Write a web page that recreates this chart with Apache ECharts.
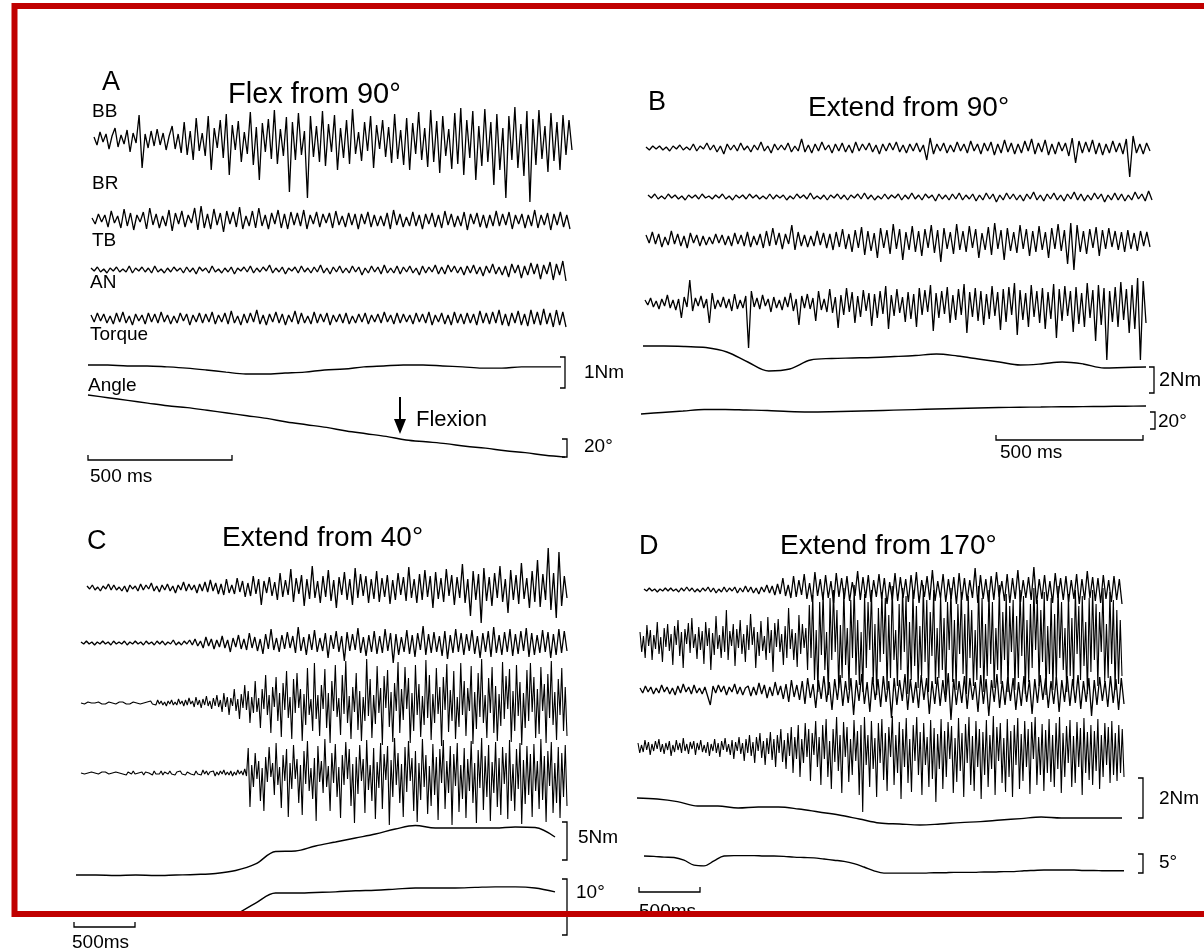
<!DOCTYPE html>
<html>
<head>
<meta charset="utf-8">
<script src="https://cdn.jsdelivr.net/npm/echarts@6/dist/echarts.min.js"></script>
<style>
html, body { margin: 0; padding: 0; background: #fff; }
#main { width: 1204px; height: 950px; }
</style>
</head>
<body>
<div id="main"></div>
<script>
// EMG samples (arbitrary units), torque in Nm, angle in degrees

// panel A - flex from 90
var A_BB = [3,-5,8,-2,6,-9,4,12,-7,5,-4,10,-12,7,-3,25,-28,6,-8,9,-6,11,-5,7,-10,4,14,-9,6,-13,18,-15,9,-20,22,-11,7,-16,24,-30,12,-8,20,-18,26,-35,15,-10,19,-22,8,-14,28,-25,13,-40,17,-12,21,-19,30,-24,11,-16,23,-52,18,-20,27,-15,9,-58,24,-17,14,-22,29,-26,16,-12,25,-30,12,-18,20,-24,31,-14,8,-21,18,-11,24,-28,15,-9,20,-17,13,-23,26,-19,10,-25,22,-30,17,-14,28,-20,12,-27,30,-22,19,-33,24,-16,11,-29,27,-24,32,-35,20,-18,29,-40,14,-26,31,-22,18,-45,26,-30,12,-58,24,-20,33,-28,16,-36,29,-62,21,-25,30,-19,14,-32,27,-21,18,-30,25,-15,20,-10];
var A_BR = [2,-4,6,-2,5,-7,9,-3,4,-8,11,-6,7,-10,5,-2,8,-9,12,-5,6,-8,4,-6,10,-11,7,-4,9,-7,5,-3,12,-10,14,-8,6,-9,11,-5,7,-12,9,-4,8,-7,13,-9,4,-6,9,-8,12,-6,5,-9,7,-4,10,-8,6,-9,8,-5,7,-6,10,-9,5,-4,8,-7,6,-3,7,-8,9,-5,4,-7,7,-5,6,-9,6,-4,8,-7,5,-6,4,-6,7,-9,10,-5,6,-7,3,-6,8,-6,5,-9,6,-4,7,-7,5,-8,9,-5,6,-7,4,-6,8,-10,6,-4,7,-7,5,-8,5,-6,9,-6,6,-5,8,-9,5,-4,6,-8,5,-6,10,-8,5,-5,7,-10,6,-5,8,-7,5,-9];
var A_TB = [2,-1,3,-2,1,-3,2,-1,3,-2,1,-2,4,-3,2,-1,3,-2,2,-3,4,-2,1,-3,2,-2,3,-1,2,-3,3,-2,2,-4,3,-1,2,-3,4,-2,1,-3,2,-2,3,-4,2,-1,3,-2,4,-3,2,-2,3,-1,5,-3,2,-2,3,-4,2,-1,3,-3,4,-2,2,-3,3,-2,5,-3,2,-4,3,-2,4,-3,2,-3,4,-2,3,-5,2,-3,4,-2,3,-4,5,-3,2,-3,4,-4,3,-2,4,-3,2,-5,4,-3,3,-2,5,-4,3,-4,5,-2,4,-3,3,-5,4,-3,5,-4,3,-6,4,-3,6,-4,3,-5,4,-7,6,-3,5,-8,4,-5,7,-4,6,-9,5,-4,8,-10,6,-5,9,-11];
var A_AN = [4,-3,6,-2,5,-4,3,-5,6,-3,7,-4,3,-6,5,-2,4,-5,6,-3,5,-4,7,-3,4,-5,3,-4,6,-2,5,-6,4,-3,6,-4,5,-3,7,-5,4,-3,6,-5,8,-4,3,-6,5,-4,6,-3,9,-5,4,-6,5,-3,7,-4,5,-6,4,-3,8,-5,6,-4,3,-5,7,-4,5,-3,6,-6,4,-3,5,-4,6,-5,3,-4,5,-3,6,-5,4,-3,5,-4,7,-3,4,-5,6,-4,5,-3,4,-5,6,-3,5,-4,7,-6,4,-3,6,-5,4,-6,7,-4,5,-5,6,-4,5,-6,8,-4,6,-5,7,-4,9,-6,5,-7,6,-4,8,-6,5,-7,9,-5,7,-6,10,-5,6,-8,9,-6,7,-8];
var A_torque = [0,0,-0.03,-0.03,-0.06,-0.10,-0.16,-0.23,-0.29,-0.29,-0.26,-0.23,-0.16,-0.13,-0.06,-0.03,0,0,-0.03,-0.06,-0.10,-0.10,-0.06,-0.06,-0.06];
var A_angle = [0,-3,-6,-9,-12,-14,-17,-20,-23,-26,-30,-33,-36,-40,-43,-46,-50,-52,-54,-57,-59,-62,-64,-67,-69];

// panel B - extend from 90
var B_1 = [1,-2,2,-1,2,-2,1,-3,2,-1,3,-2,1,-2,4,-3,2,-1,5,-2,3,-4,2,-6,4,-2,3,-3,5,-2,2,-4,3,-2,6,-3,2,-5,4,-2,3,-2,5,-4,2,-3,9,-4,3,-5,4,-3,6,-2,3,-5,4,-3,5,-4,3,-5,6,-3,4,-2,5,-4,3,-6,4,-3,5,-2,6,-4,3,-5,4,-3,5,-4,3,-12,10,-6,4,-3,5,-5,3,-4,6,-3,4,-5,7,-3,4,-6,5,-3,6,-7,4,-5,8,-4,5,-6,4,-5,7,-3,9,-6,5,-4,8,-7,4,-6,6,-3,5,-8,10,-15,7,-5,6,-4,8,-6,5,-7,4,-5,7,-4,5,-6,9,-29,12,-5,4,-6,5,-3];
var B_2 = [2,-1,3,-2,1,-2,3,-1,2,-2,1,-3,2,-1,2,-2,3,-1,1,-2,2,-1,3,-2,1,-3,2,-1,2,-2,3,-1,2,-2,1,-2,3,-2,2,-1,2,-3,1,-2,3,-1,2,-2,4,-2,1,-2,2,-3,2,-1,3,-2,2,-3,2,-1,3,-2,4,-2,2,-3,1,-2,3,-2,2,-1,3,-3,2,-2,4,-2,2,-3,3,-1,2,-4,3,-2,2,-3,3,-2,4,-3,2,-2,3,-4,2,-3,4,-2,3,-5,2,-3,4,-2,3,-3,2,-4,3,-2,5,-3,2,-4,3,-2,4,-3,2,-4,3,-2,5,-3,3,-4,2,-3,4,-2,3,-5,2,-3,4,-3,3,-4,2,-3,5,-2,3,-4,6,-3];
var B_3 = [5,-3,8,-4,6,-7,3,-5,9,-4,6,-6,4,-8,7,-3,5,-6,4,-5,3,-4,6,-3,5,-5,4,-6,7,-4,5,-6,8,-7,4,-5,6,-8,9,-6,12,-5,7,-9,6,-4,15,-10,8,-6,5,-7,4,-6,9,-5,7,-8,6,-10,8,-7,11,-9,6,-12,10,-8,13,-15,9,-11,7,-18,12,-8,10,-14,16,-9,11,-20,8,-10,14,-12,9,-16,11,-8,15,-13,10,-22,12,-9,8,-14,16,-10,9,-12,14,-8,11,-18,7,-10,13,-15,17,-9,10,-20,12,-11,8,-13,15,-9,11,-16,9,-12,14,-10,8,-18,12,-9,16,-11,10,-24,17,-30,15,-12,9,-14,11,-8,13,-16,10,-9,12,-7,9,-10,8,-12,10,-9,7,-11,9,-6,8,-7];
var B_4 = [3,-2,5,-4,2,-6,4,-3,8,-5,3,-7,4,-15,6,-4,23,-8,5,-3,7,-5,4,-20,10,-6,3,-4,6,-5,4,-8,9,-6,3,-5,7,-45,12,-4,5,-6,8,-3,4,-9,6,-5,3,-7,6,-4,10,-8,4,-22,7,-5,9,-6,5,-18,12,-7,4,-9,14,-10,6,-25,8,-12,15,-9,11,-20,7,-14,13,-8,10,-23,9,-15,12,-11,17,-26,8,-13,14,-10,6,-19,11,-16,9,-24,15,-12,13,-9,18,-28,10,-15,12,-11,16,-20,8,-17,14,-12,19,-30,11,-14,15,-18,12,-22,9,-16,17,-13,11,-27,14,-19,16,-12,20,-32,13,-17,10,-24,18,-14,12,-20,15,-26,11,-16,19,-35,14,-18,17,-13,12,-29,16,-21,10,-24,20,-15,13,-38,18,-22,15,-57,12,-19,16,-24,21,-17,14,-30,18,-26,25,-57,22,-20];
var B_torque = [0,0,-0.04,-0.12,-0.46,-1.23,-1.92,-1.77,-1.08,-0.96,-0.92,-0.88,-0.81,-0.73,-0.62,-0.77,-1.00,-1.23,-1.46,-1.38,-1.23,-1.38,-1.69,-1.65,-1.62];
var B_angle = [0,1.8,3.5,5.3,5.3,4.7,4.1,2.9,2.4,2.7,3.3,3.9,4.5,5.2,5.9,6.5,7.1,7.6,8,8.2,8.5,8.7,8.9,9.2,9.4];

// panel C - extend from 40
var C_1 = [2,-1,3,-2,1,-3,2,-1,4,-2,3,-2,1,-3,2,-4,3,-1,2,-3,4,-2,3,-1,5,-3,2,-4,3,-2,4,-3,2,-5,3,-2,6,-3,4,-2,3,-5,4,-3,6,-4,8,-3,5,-6,4,-7,9,-5,3,-6,10,-4,7,-9,5,-8,12,-6,9,-17,7,-5,11,-8,6,-12,15,-9,8,-7,19,-14,10,-6,13,-18,9,-11,22,-10,7,-15,12,-9,18,-13,8,-20,11,-7,16,-12,9,-17,20,-10,14,-8,12,-15,9,-11,17,-14,10,-9,13,-16,8,-12,15,-7,11,-13,21,-10,9,-15,14,-12,18,-9,12,-20,16,-11,10,-14,19,-8,13,-17,11,-10,24,-15,9,-28,17,-12,14,-35,20,-13,11,-18,15,-10,22,-14,9,-25,18,-12,13,-16,25,-11,10,-20,17,-14,28,-19,14,-12,40,-22,15,-30,36,-18,12,-10];
var C_2 = [1,-1,2,-1,1,-2,1,-1,2,-1,1,-2,2,-1,1,-1,2,-2,1,-1,2,-1,1,-2,2,-1,1,-2,2,-1,2,-2,1,-1,3,-2,1,-2,2,-1,3,-2,4,-3,2,-5,6,-3,4,-6,3,-4,7,-5,3,-9,5,-4,8,-6,4,-7,10,-5,6,-8,4,-11,9,-6,14,-7,5,-9,8,-6,11,-5,7,-10,16,-8,6,-12,9,-7,13,-9,5,-8,10,-15,8,-6,12,-9,7,-18,11,-8,9,-7,15,-10,6,-13,8,-9,12,-11,7,-10,14,-8,10,-20,9,-12,6,-9,13,-11,8,-14,10,-7,17,-12,9,-10,11,-9,7,-13,12,-16,8,-10,14,-9,10,-12,9,-8,13,-11,7,-15,10,-9,12,-14,16,-10,8,-12,11,-9,14,-13,9,-11,12,-8,15,-14,10,-12,8,-10,13,-9,11,-15,9,-12,14,-10,12,-8];
var C_3 = [
    0,1,-1,0,1,-1,0,1,0,-1,1,0,-1,1,-1,0,1,-1,0,1,
    -1,0,1,-1,1,0,-1,1,-1,0,1,-1,0,1,-1,1,0,-1,1,-1,
    2,-1,1,-2,3,-1,2,-2,1,-3,2,-1,3,-2,1,-2,4,-1,2,-3,
    3,-2,5,-1,2,-4,6,-2,3,-5,4,-2,7,-3,2,-6,5,-3,8,-4,
    3,-9,10,-4,6,-12,5,-3,14,-8,4,-16,9,-5,18,-7,12,-20,6,-10,
    22,-9,5,-25,14,-6,28,-12,8,-30,16,-4,26,-18,10,-34,20,-7,32,-15,
    6,-36,24,-10,30,-5,14,-38,9,-22,35,-12,4,-28,40,-16,8,-33,18,-6,
    34,-25,10,-40,22,-8,38,-14,5,-32,28,-11,42,-20,7,-36,16,-9,30,-27,
    12,-38,6,-18,44,-13,24,-35,8,-21,37,-10,15,-42,27,-5,33,-24,11,-39,
    20,-8,41,-30,14,-17,36,-6,25,-40,10,-28,38,-12,19,-34,7,-22,43,-15,
    28,-37,9,-20,35,-11,16,-43,26,-7,39,-29,13,-18,32,-36,6,-24,40,-12,
    22,-33,15,-8,37,-41,11,-26,30,-14,44,-20,8,-35,25,-10,36,-30,17,-38,
    9,-23,41,-16,27,-6,34,-39,12,-28,38,-13,21,-42,10,-25,33,-18,40,-9,
    26,-35,14,-31,36,-8,19,-40,29,-15,42,-22,11,-37,24,-12,35,-28,16,-33];
var C_4 = [
    0,1,-1,1,0,-1,1,-1,0,1,-1,0,1,-1,1,0,-1,1,0,-1,
    1,-1,0,1,-1,1,-2,1,0,-1,2,-1,1,0,-1,1,-2,1,-1,0,
    1,-2,2,-1,1,-1,2,-2,1,0,-1,2,-1,1,-2,1,-1,2,-1,1,
    -2,1,2,-1,1,-2,2,-1,1,-2,3,-1,2,-2,1,-1,2,-3,1,-2,
    2,-1,3,-2,1,-2,2,-3,1,-2,3,-1,2,-2,4,-3,25,-34,8,-14,
    20,-6,12,-28,5,-38,16,-9,26,-4,10,-22,30,-12,6,-35,18,-8,24,-44,
    10,-16,28,-6,14,-30,8,-42,22,-11,32,-18,5,-26,15,-48,27,-9,12,-20,
    34,-14,7,-38,20,-10,29,-24,6,-45,18,-12,31,-6,24,-33,9,-50,16,-21,
    28,-8,14,-40,33,-17,8,-28,25,-46,11,-15,30,-36,19,-7,27,-52,13,-24,
    35,-12,20,-30,9,-44,26,-19,32,-8,15,-38,22,-49,10,-27,34,-14,18,-41,
    7,-33,29,-22,16,-47,24,-10,33,-36,12,-20,27,-52,19,-13,30,-39,8,-26,
    25,-45,14,-18,32,-30,10,-50,23,-15,35,-37,17,-24,28,-48,11,-20,31,-34,
    15,-42,26,-11,20,-46,33,-28,9,-38,24,-16,30,-51,13,-31,27,-22,19,-44,
    29,-18,12,-36,34,-27,17,-49,22,-13,31,-40,10,-30,26,-45,20,-24,28,-33];
var C_torque = [0,0,-0.07,0,-0.07,0,0.07,0.2,0.59,1.45,3.09,3.16,3.82,4.34,4.87,5.39,6.05,6.51,6.18,6.18,6.18,6.18,6.32,6.25,5.0];
var C_angle = [null,null,null,null,null,null,null,null,-3.9,-1.8,0,0,0.1,0.2,0.4,0.5,0.7,0.9,0.9,0.9,1.0,1.1,1.1,0.9,0.2];

// panel D - extend from 170
var D_1 = [1,-1,2,-1,1,-2,1,-1,2,-1,2,-1,1,-2,2,-1,3,-1,2,-2,1,-2,2,-1,3,-2,2,-3,1,-2,3,-2,2,-1,3,-3,2,-2,4,-2,3,-3,2,-4,3,-2,5,-3,4,-5,6,-4,12,-6,5,-8,14,-7,10,-5,16,-9,7,-12,18,-6,11,-10,15,-8,9,-13,17,-7,12,-9,14,-11,8,-6,19,-10,13,-8,15,-12,10,-7,16,-9,12,-14,8,-10,17,-11,13,-8,11,-12,15,-9,18,-13,10,-7,14,-10,20,-11,9,-8,16,-12,11,-9,13,-14,17,-10,12,-11,10,-8,22,-13,15,-9,11,-12,14,-10,18,-7,9,-11,16,-13,12,-9,20,-12,10,-8,13,-10,23,-14,11,-9,15,-11,9,-13,17,-8,12,-10,14,-12,10,-9,16,-14,11,-10,19,-8,13,-11,12,-13,15,-9,10,-12,14,-10,11,-14];
var D_2 = [
    8,-12,4,-18,15,-6,10,-20,5,-9,18,-14,3,-22,12,-7,16,-11,6,-25,
    14,-5,20,-16,8,-28,11,-4,17,-13,22,-8,6,-19,13,-10,9,-24,18,-6,
    12,-30,7,-15,24,-9,5,-18,14,-12,30,-20,9,-6,16,-26,11,-8,20,-14,
    6,-22,15,-10,26,-5,13,-28,8,-16,19,-11,4,-20,23,-13,10,-32,17,-7,
    21,-12,6,-25,14,-18,32,-9,11,-20,7,-27,25,-14,16,-8,12,-30,35,-18,
    45,-40,10,-52,38,-15,48,-30,8,-55,42,-20,50,-12,30,-48,15,-38,52,-25,
    12,-50,40,-18,55,-35,20,-45,8,-52,46,-28,38,-10,50,-42,16,-55,32,-22,
    48,-14,42,-50,25,-38,54,-20,10,-46,36,-30,52,-12,44,-54,18,-40,50,-26,
    34,-48,14,-36,55,-22,40,-52,28,-16,50,-44,12,-38,46,-30,22,-55,38,-10,
    52,-42,20,-50,36,-14,48,-34,26,-54,44,-18,30,-46,10,-40,54,-28,42,-52,
    16,-36,50,-24,38,-48,12,-30,55,-44,28,-20,46,-52,34,-12,40,-50,24,-38,
    50,-16,44,-54,20,-42,36,-28,52,-10,40,-46,30,-22,48,-55,14,-34,42,-50,
    26,-44,54,-18,38,-30,12,-52,46,-36,22,-48,50,-14,34,-40,44,-26,18,-54,
    42,-32,50,-20,36,-46,28,-12,52,-42,16,-38,48,-24,40,-50,30,-44,20,-36];
var D_3 = [2,-3,4,-2,3,-4,2,-3,5,-2,3,-4,2,-5,4,-3,6,-2,3,-4,5,-3,2,-4,3,-6,-15,4,-3,5,-2,4,-5,3,-2,6,-4,3,-5,2,4,-6,3,-5,7,-4,5,-8,3,-6,8,-5,4,-9,6,-12,10,-7,5,-10,9,-14,12,-8,6,-18,10,-9,14,-12,8,-20,11,-10,15,-16,9,-13,12,-25,10,-11,16,-14,8,-22,13,-10,11,-17,14,-12,9,-28,12,-15,10,-11,16,-20,11,-13,8,-18,15,-10,12,-24,9,-14,13,-16,10,-12,17,-30,11,-15,9,-13,14,-19,12,-10,8,-22,15,-14,11,-26,10,-12,16,-18,9,-15,13,-11,12,-20,8,-16,14,-12,10,-24,11,-13,15,-10,12,-18,9,-14,13,-22,10,-12,14,-16,11,-13,15,-19,9,-12,12,-26,10,-15,13,-11,9,-17,14,-13,11,-20,12,-14];
var D_4 = [
    4,-6,2,-5,7,-3,5,-8,3,-4,6,-2,8,-5,3,-7,4,-3,6,-9,
    2,-5,7,-3,4,-6,9,-4,3,-7,5,-2,6,-8,4,-3,7,-5,2,-6,
    5,-9,3,-4,8,-6,4,-10,6,-3,9,-5,3,-8,7,-12,5,-4,10,-7,
    4,-14,8,-6,12,-9,5,-16,10,-4,14,-11,6,-18,9,-7,15,-13,8,-20,
    12,-6,18,-15,7,-22,14,-9,20,-26,10,-12,22,-30,8,-16,24,-10,18,-34,
    14,-8,26,-20,10,-38,22,-12,28,-30,6,-42,18,-15,30,-24,12,-46,25,-10,
    20,-35,8,-28,27,-14,16,-48,22,-65,30,-18,12,-40,26,-22,9,-50,24,-16,
    28,-33,14,-44,20,-10,31,-38,12,-26,25,-52,18,-20,29,-36,8,-45,22,-14,
    30,-28,15,-48,24,-18,10,-40,27,-32,19,-55,13,-22,28,-42,16,-30,25,-12,
    21,-46,9,-35,29,-24,14,-50,23,-16,30,-38,11,-44,26,-20,18,-52,15,-28,
    27,-40,12,-22,31,-48,20,-14,24,-36,9,-45,28,-30,16,-50,22,-18,29,-42,
    13,-34,26,-20,18,-47,25,-12,30,-38,10,-28,23,-44,17,-26,28,-35,12,-40,
    24,-22,30,-46,14,-30,21,-16,27,-40,11,-36,25,-20,19,-48,29,-26,15,-33,
    22,-38,16,-24,28,-42,12,-30,24,-18,20,-36,26,-28,14,-34,22,-26,18,-30];
var D_torque = [0,-0.05,-0.18,-0.4,-0.4,-0.5,-0.45,-0.45,-0.55,-0.7,-0.85,-1.05,-1.25,-1.3,-1.35,-1.3,-1.23,-1.18,-1.1,-1.03,-0.95,-1.0,-1.0,-1.0,-1.0];
var D_angle = [0,-0.1,-0.3,-0.4,-1.1,-2.4,-2.6,-1.3,0,0.1,0.1,0.1,0,0,-0.1,-0.3,-0.4,-0.5,-0.8,-1.1,-1.4,-2.0,-2.9,-3.9,-4.5,-4.5,-4.5,-4.5,-4.5,-4.4,-4.4,-4.3,-4.3,-4.3,-4.2,-4.2,-4.1,-4.1,-3.9,-3.8,-3.7,-3.7,-3.7,-3.7,-3.8,-3.8,-3.9,-3.9,-3.9];

// where each trace sits: data, left, right, zero line y, px per unit, smooth
var traces = [
    [A_BB, 94, 572, 140, 1], [A_BR, 92, 570, 220, 1], [A_TB, 91, 566, 270, 1], [A_AN, 91, 566, 319, 1],
    [A_torque, 88, 561, 365, 31, 1], [A_angle, 88, 565, 395, 0.9, 1],
    [B_1, 646, 1150, 148, 1], [B_2, 648, 1152, 197, 1], [B_3, 646, 1150, 240, 1], [B_4, 645, 1146, 303, 1],
    [B_torque, 643, 1146, 346, 13, 1], [B_angle, 641, 1146, 414, 0.85, 1],
    [C_1, 87, 567, 588, 1], [C_2, 81, 567, 643, 1], [C_3, 81, 567, 703, 1], [C_4, 81, 567, 773, 1],
    [C_torque, 76, 555, 875, 7.6, 1], [C_angle, 76, 555, 893, 5.6, 1],
    [D_1, 644, 1122, 590, 1], [D_2, 640, 1122, 640, 1], [D_3, 640, 1124, 690, 1], [D_4, 638, 1124, 747, 1],
    [D_torque, 637, 1122, 798, 20, 1], [D_angle, 644, 1124, 856, 3.8, 1]
];

var FONT = '"Liberation Sans", Arial, sans-serif';
var myChart = echarts.init(document.getElementById('main'));

var grids = [], xAxes = [], yAxes = [], series = [];
traces.forEach(function (t, i) {
    var d = t[0];
    // keep every grid inside the 950px canvas so echarts does not squeeze it
    var h = Math.min(100, 948 - t[3]);
    grids.push({ left: t[1], top: t[3] - h, width: t[2] - t[1], height: 2 * h });
    xAxes.push({ type: 'value', gridIndex: i, min: 0, max: d.length - 1, show: false });
    yAxes.push({ type: 'value', gridIndex: i, min: -h / t[4], max: h / t[4], show: false });
    series.push({
        type: 'line', xAxisIndex: i, yAxisIndex: i,
        data: d.map(function (v, k) { return [k, v === null ? '-' : v]; }),
        showSymbol: false, smooth: t[5] ? 0.35 : false, silent: true,
        lineStyle: { color: '#000', width: t[5] ? 1.4 : (d.length > 200 ? 1.1 : 1.3) }
    });
});

function txt(s, x, y, size) {
    return { type: 'text', x: x, y: y, z: 10,
        style: { text: s, font: size + 'px ' + FONT, fill: '#000', verticalAlign: 'middle' } };
}
function bracket(x, y1, y2) {
    return { type: 'polyline', z: 10, shape: { points: [[x - 5, y1], [x, y1], [x, y2], [x - 5, y2]] },
        style: { stroke: '#000', lineWidth: 1.3, fill: null } };
}
function bar(x1, x2, y) {
    return { type: 'polyline', z: 10, shape: { points: [[x1, y - 5], [x1, y], [x2, y], [x2, y - 5]] },
        style: { stroke: '#000', lineWidth: 1.3, fill: null } };
}

var graphic = [
    txt('A', 102, 83, 27), txt('Flex from 90°', 228, 95, 29),
    txt('BB', 92, 112, 19), txt('BR', 92, 184, 19), txt('TB', 92, 241, 19), txt('AN', 90, 283, 19),
    txt('Torque', 90, 335, 19), txt('Angle', 88, 386, 19),
    txt('1Nm', 584, 373, 19), txt('20°', 584, 447, 19), txt('Flexion', 416, 420, 22), txt('500 ms', 90, 477, 19),
    bracket(565, 357, 388), bracket(567, 439, 457), bar(88, 232, 460),
    { type: 'line', z: 10, shape: { x1: 400, y1: 397, x2: 400, y2: 422 }, style: { stroke: '#000', lineWidth: 2 } },
    { type: 'polygon', z: 10, shape: { points: [[394, 419], [406, 419], [400, 434]] }, style: { fill: '#000' } },

    txt('B', 648, 103, 27), txt('Extend from 90°', 808, 108, 28),
    txt('2Nm', 1159, 380, 20), txt('20°', 1158, 422, 19), txt('500 ms', 1000, 453, 19),
    bracket(1154, 367, 393), bracket(1155, 412, 429), bar(996, 1143, 440),

    txt('C', 87, 542, 27), txt('Extend from 40°', 222, 538, 28),
    txt('5Nm', 578, 838, 19), txt('10°', 576, 893, 19), txt('500ms', 72, 943, 19),
    bracket(567, 822, 860), bracket(567, 879, 935), bar(74, 135, 927),

    txt('D', 639, 547, 27), txt('Extend from 170°', 780, 546, 28),
    txt('2Nm', 1159, 799, 19), txt('5°', 1159, 863, 19), txt('500ms', 639, 912, 19),
    bracket(1143, 778, 818), bracket(1143, 854, 873), bar(639, 700, 892),

    // red frame on top of everything
    { type: 'rect', z: 100, shape: { x: 14.5, y: 6, width: 1300, height: 908 },
        style: { stroke: '#c00000', lineWidth: 6, fill: null } }
];

myChart.setOption({
    backgroundColor: '#fff',
    animation: false,
    grid: grids,
    xAxis: xAxes,
    yAxis: yAxes,
    series: series,
    graphic: graphic
});
</script>
</body>
</html>
